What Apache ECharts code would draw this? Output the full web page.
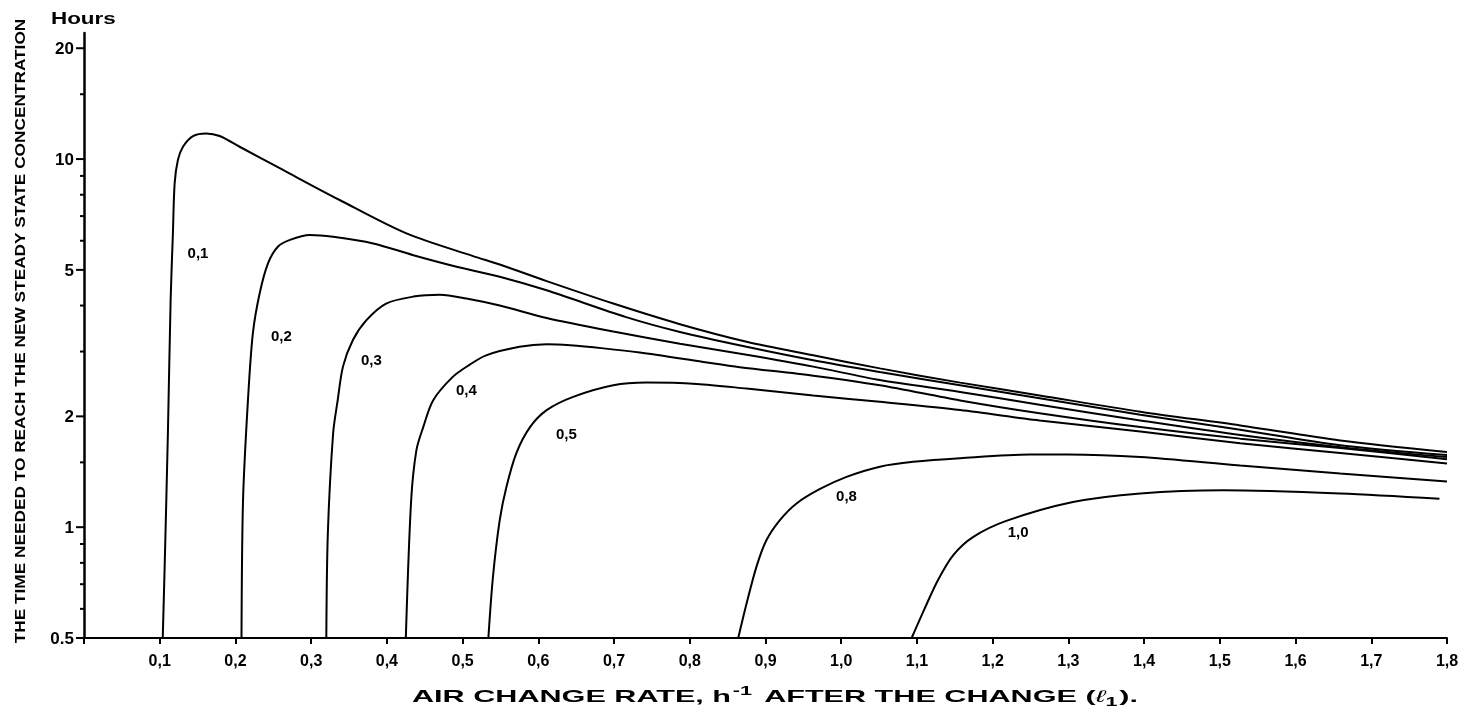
<!DOCTYPE html>
<html><head><meta charset="utf-8">
<script src="https://cdn.jsdelivr.net/npm/echarts@6/dist/echarts.min.js"></script>
<style>html,body{margin:0;padding:0;background:#fff}#c{width:1468px;height:718px}</style>
</head><body><div id="c"></div>
<script>
// ---- data ----
const curveNames = ['0,1', '0,2', '0,3', '0,4', '0,5', '0,8', '1,0'];

const curve01 = [[0.104,0.5],[0.1065,0.78],[0.1108,1.80],[0.1144,4.14],[0.1174,6.28],[0.1197,8.59],[0.124,9.94],[0.1307,10.80],[0.1439,11.55],[0.1616,11.74],[0.1791,11.55],[0.2055,10.80],[0.2628,9.34],[0.3376,7.74],[0.4258,6.28],[0.5137,5.45],[0.549,5.17],[0.611,4.66],[0.699,4.05],[0.787,3.56],[0.875,3.19],[0.963,2.93],[1.051,2.70],[1.157,2.47],[1.262,2.28],[1.395,2.06],[1.527,1.89],[1.659,1.72],[1.8,1.60]];
const curve02 = [[0.208,0.5],[0.210,1.18],[0.2165,2.21],[0.223,3.36],[0.232,4.32],[0.243,5.21],[0.256,5.78],[0.272,6.03],[0.298,6.22],[0.329,6.15],[0.382,5.90],[0.435,5.48],[0.492,5.10],[0.549,4.79],[0.611,4.40],[0.716,3.72],[0.787,3.39],[0.875,3.09],[0.963,2.84],[1.051,2.64],[1.157,2.43],[1.262,2.24],[1.395,2.02],[1.527,1.84],[1.659,1.67],[1.8,1.57]];
const curve03 = [[0.320,0.5],[0.322,0.96],[0.329,1.80],[0.335,2.21],[0.342,2.73],[0.355,3.22],[0.373,3.65],[0.399,4.05],[0.435,4.23],[0.470,4.28],[0.505,4.18],[0.549,4.00],[0.611,3.70],[0.699,3.40],[0.787,3.15],[0.875,2.94],[0.963,2.73],[1.051,2.51],[1.157,2.33],[1.262,2.15],[1.395,1.95],[1.527,1.78],[1.659,1.65],[1.8,1.55]];
const curve04 = [[0.425,0.5],[0.432,1.18],[0.439,1.62],[0.448,1.87],[0.461,2.21],[0.487,2.56],[0.509,2.76],[0.531,2.93],[0.575,3.09],[0.611,3.14],[0.642,3.12],[0.686,3.06],[0.734,2.98],[0.818,2.81],[0.866,2.72],[0.963,2.58],[1.051,2.43],[1.157,2.21],[1.262,2.04],[1.395,1.87],[1.527,1.74],[1.659,1.64],[1.8,1.53]];
const curve05 = [[0.534,0.5],[0.540,0.73],[0.549,1.045],[0.558,1.29],[0.571,1.59],[0.589,1.87],[0.611,2.08],[0.646,2.26],[0.699,2.43],[0.743,2.47],[0.809,2.45],[0.875,2.38],[0.963,2.28],[1.051,2.19],[1.157,2.08],[1.262,1.95],[1.395,1.82],[1.527,1.69],[1.659,1.59],[1.8,1.49]];
const curve08 = [[0.864,0.5],[0.875,0.62],[0.888,0.78],[0.901,0.92],[0.919,1.045],[0.941,1.16],[0.972,1.27],[1.007,1.37],[1.051,1.46],[1.095,1.505],[1.157,1.54],[1.249,1.575],[1.30,1.575],[1.395,1.55],[1.527,1.47],[1.659,1.40],[1.8,1.33]];
const curve10 = [[1.093,0.5],[1.110,0.60],[1.128,0.72],[1.148,0.84],[1.174,0.94],[1.218,1.04],[1.306,1.17],[1.395,1.235],[1.505,1.26],[1.659,1.235],[1.79,1.195]];

// where each curve's name is written (data coordinates)
const curveLabelAt = [[0.1505,5.54],[0.2606,3.28],[0.3795,2.83],[0.505,2.34],[0.6371,1.78],[1.007,1.21],[1.2337,0.965]];

const yMajorTicks = [0.5, 1, 2, 5, 10, 20];
const yMinorTicks = [0.6, 0.7, 0.8, 0.9, 1.5, 3, 4, 6, 7, 8, 9, 15];

const yTitle = 'THE TIME NEEDED TO REACH THE NEW STEADY STATE CONCENTRATION';
const yUnit = 'Hours';

// ---- chart ----
const FONT = '"Liberation Sans", Arial, Helvetica, sans-serif';
const curves = [curve01, curve02, curve03, curve04, curve05, curve08, curve10];

function fmtY(v) { return v < 1 ? String(v) : String(Math.round(v)); }

function tickSeries(values, len, withLabel) {
  return {
    type: 'custom', coordinateSystem: 'cartesian2d', clip: false, silent: true, z: 5,
    data: values.map(v => [0, v]),
    encode: { x: 0, y: 1 },
    renderItem: function (params, api) {
      const v = api.value(1);
      const p = api.coord([0, v]);
      const children = [{
        type: 'line',
        shape: { x1: p[0] - len, y1: p[1], x2: p[0], y2: p[1] },
        style: { stroke: '#000', lineWidth: 2 }
      }];
      if (withLabel) {
        children.push({
          type: 'text',
          style: {
            text: fmtY(v), x: p[0] - len - 2, y: p[1] + 1,
            textAlign: 'right', textVerticalAlign: 'middle',
            font: 'bold 17px ' + FONT, fill: '#000'
          }
        });
      }
      return { type: 'group', children: children };
    }
  };
}

const series = curves.map((d, i) => ({
  type: 'line', name: curveNames[i], data: d,
  symbol: 'none', showSymbol: false,
  smooth: 0.3,
  lineStyle: { color: '#000', width: 2 },
  silent: true, z: 3
}));

// curve names, written at their places through the axes
series.push({
  type: 'custom', coordinateSystem: 'cartesian2d', silent: true, z: 4, clip: false,
  data: curveLabelAt.map((p, i) => [p[0], p[1], i]),
  encode: { x: 0, y: 1 },
  renderItem: function (params, api) {
    const p = api.coord([api.value(0), api.value(1)]);
    return {
      type: 'text',
      style: {
        text: curveNames[params.dataIndex], x: p[0], y: p[1],
        textAlign: 'center', textVerticalAlign: 'middle',
        font: 'bold 15px ' + FONT, fill: '#000'
      }
    };
  }
});
series.push(tickSeries(yMajorTicks, 8, true));
series.push(tickSeries(yMinorTicks, 4, false));

const option = {
  backgroundColor: '#fff',
  animation: false,
  grid: { left: 84, right: 21, top: 33, bottom: 80, containLabel: false, outerBoundsMode: 'none' },
  xAxis: {
    type: 'value', min: 0, max: 1.8, interval: 0.1,
    splitLine: { show: false },
    axisLine: { show: true, onZero: false, lineStyle: { color: '#000', width: 2 } },
    axisTick: { show: true, length: 6, lineStyle: { color: '#000', width: 2 } },
    axisLabel: {
      margin: 16, color: '#000', fontFamily: FONT, fontWeight: 'bold', fontSize: 16,
      formatter: v => (v < 0.05 ? '' : v.toFixed(1).replace('.', ','))
    }
  },
  yAxis: {
    type: 'log', logBase: 10, min: 0.5, max: 22,
    splitLine: { show: false },
    axisLine: { show: true, lineStyle: { color: '#000', width: 2.5 } },
    axisTick: { show: false },
    axisLabel: { show: false },
    minorTick: { show: false }
  },
  graphic: [
    {
      type: 'text', x: 51, y: 20, scaleX: 1.4, silent: true,
      style: { text: yUnit, font: 'bold 16px ' + FONT, fill: '#000', textAlign: 'left', textVerticalAlign: 'middle' }
    },
    {
      type: 'text', x: 21, y: 331, rotation: Math.PI / 2, scaleX: 1.15, silent: true,
      style: { text: yTitle, font: 'bold 15px ' + FONT, fill: '#000', textAlign: 'center', textVerticalAlign: 'middle' }
    },
    {
      type: 'text', x: 775, y: 697, scaleX: 1.8, silent: true,
      style: {
        text: '{t|AIR CHANGE RATE, h}{sup|-1}{t| AFTER THE CHANGE (}{l|ℓ}{sub|1}{t|).}',
        textAlign: 'center', textVerticalAlign: 'middle',
        rich: {
          t: { font: 'bold 17px ' + FONT, fill: '#000', color: '#000' },
          sup: { font: 'bold 12px ' + FONT, fill: '#000', color: '#000', padding: [0, 2, 10, 1] },
          l: { font: 'italic 17px ' + FONT, fill: '#000', color: '#000' },
          sub: { font: 'bold 12px ' + FONT, fill: '#000', color: '#000', padding: [12, 1, 0, 0] }
        }
      }
    }
  ],
  series: series
};

const chart = echarts.init(document.getElementById('c'), null, { renderer: 'canvas' });
chart.setOption(option);
</script>
</body></html>
